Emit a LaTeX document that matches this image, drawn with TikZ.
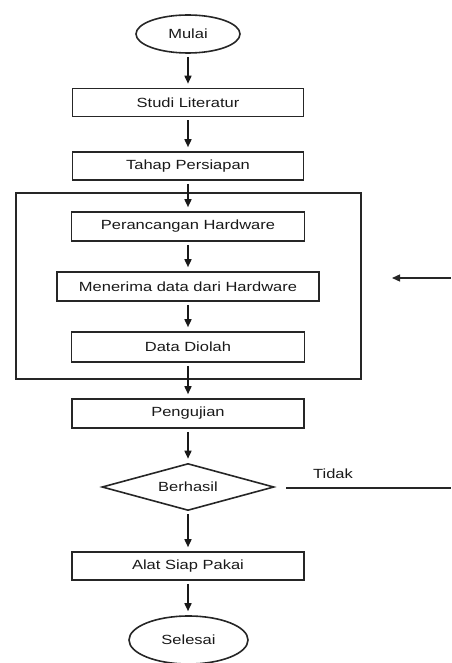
\documentclass[tikz,border=0pt]{standalone}
\usepackage{fontspec}
\setmainfont{Liberation Sans}[FakeStretch=1.24]
\usetikzlibrary{shapes.geometric,arrows.meta}
\tikzset{
  base/.style={draw=black!85, line width=1.6pt, text=black!90, font=\fontsize{13.3}{15}\selectfont, inner sep=0pt},
  procbox/.style={base, rectangle, minimum width=#1, minimum height=28pt},
  term/.style={base, ellipse},
  decide/.style={base, diamond, shape aspect=3.66, minimum width=172pt, minimum height=47pt},
  flow/.style={draw=black!90, line width=1.6pt, -{Triangle[length=8pt,width=7pt]}, shorten <=3pt, shorten >=4pt},
  plain/.style={draw=black!85, line width=1.3pt},
  lbl/.style={font=\fontsize{13.3}{15}\selectfont, text=black!90, inner sep=0pt}
}
\begin{document}
\begin{tikzpicture}[x=1pt,y=-1pt]
\useasboundingbox (0,0) rectangle (451,663);
\node[base, rectangle, minimum width=345pt, minimum height=186pt] (frame) at (188.5,286) {};
\node[term, minimum width=104pt, minimum height=38pt] (mulai) at (188,34) {Mulai};
\node[procbox=231pt] (studi) at (188,102.5) {Studi Literatur};
\node[procbox=231pt] (tahap) at (188,166) {Tahap Persiapan};
\node[procbox=233pt, minimum height=29pt] (rancang) at (188,226.5) {Perancangan Hardware};
\node[procbox=262pt, minimum height=29pt] (terima) at (188,286.5) {Menerima data dari Hardware};
\node[procbox=233pt, minimum height=30pt] (olah) at (188,347) {Data Diolah};
\node[procbox=232pt, minimum height=29pt] (uji) at (188,413.5) {Pengujian};
\node[decide] (hasil) at (188,487) {Berhasil};
\node[procbox=232pt] (alat) at (188,566) {Alat Siap Pakai};
\node[term, minimum width=119pt, minimum height=48pt] (selesai) at (188.5,640) {Selesai};
\node[lbl] (tidak) at (333,474) {Tidak};
\coordinate (rin) at (451,278);
\coordinate (rtip) at (392,278);
\coordinate (rout) at (451,488);
\coordinate (hstart) at (286,488);
\draw[flow] (mulai) -- (studi);
\draw[flow] (studi) -- (tahap);
\draw[flow] (tahap) -- (rancang);
\draw[flow] (rancang) -- (terima);
\draw[flow] (terima) -- (olah);
\draw[flow] (olah) -- (uji);
\draw[flow] (uji) -- (hasil);
\draw[flow] (hasil) -- (alat);
\draw[flow] (alat.south) -- (alat.south |- selesai.north);
\draw[plain] (hstart) -- (rout);
\draw[plain, -{Triangle[length=8pt,width=7pt]}] (rin) -- (rtip);
\end{tikzpicture}
\end{document}
